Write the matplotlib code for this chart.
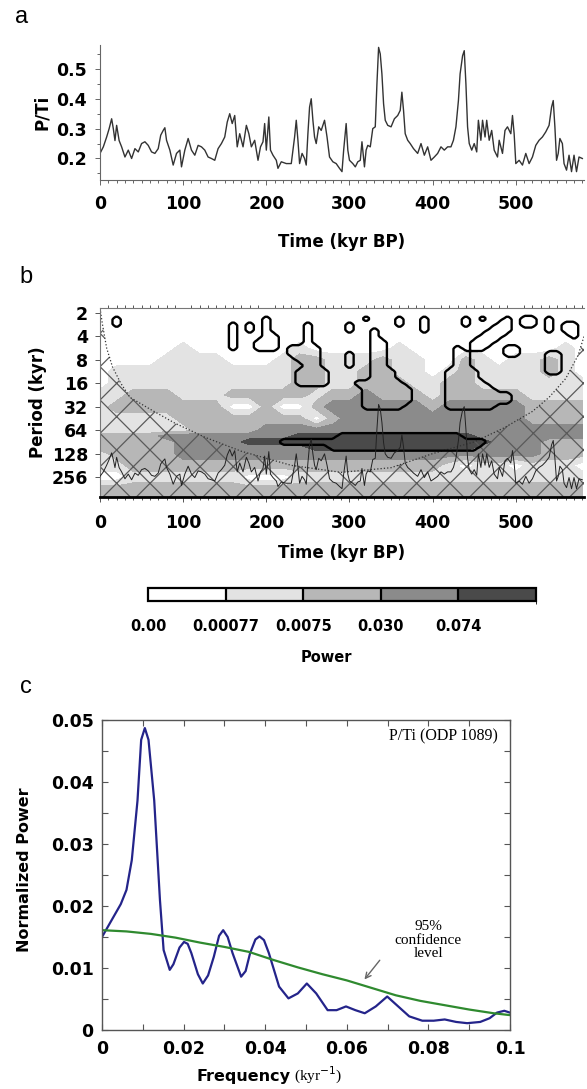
import numpy as np
import matplotlib
matplotlib.use("Agg")
import matplotlib.pyplot as plt
import matplotlib as mpl
from matplotlib.colors import ListedColormap, BoundaryNorm
from matplotlib.ticker import MultipleLocator, FixedLocator, FixedFormatter

# ---------------------------------------------------------------- data
# (a) P/Ti record, ODP 1089
pti_time = [0, 4, 8, 11, 14, 16, 18, 20, 23, 26, 30, 34, 38, 42, 46, 50, 54, 58, 62, 66,
            70, 73, 76, 78, 80, 84, 88, 92, 96, 98, 102, 106, 110, 114, 118, 122, 126, 130,
            134, 138, 142, 146, 150, 153, 156, 159, 162, 165, 168, 172, 176, 179, 182, 186,
            190, 193, 196, 198, 200, 203, 205, 208, 212, 214, 218, 224, 230, 234, 236, 238,
            240, 243, 246, 248, 250, 252, 254, 256, 258, 260, 263, 266, 270, 273, 276, 280,
            284, 288, 291, 293, 296, 298, 300, 304, 307, 310, 313, 315, 318, 320, 322, 325,
            328, 331, 333, 335, 337, 339, 341, 343, 346, 350, 354, 358, 361, 363, 365, 367,
            370, 373, 377, 382, 386, 390, 394, 398, 402, 406, 410, 414, 418, 422, 425, 428,
            431, 433, 436, 438, 440, 442, 444, 447, 450, 453, 455, 458, 460, 463, 465, 468,
            471, 474, 478, 480, 484, 487, 490, 494, 496, 498, 500, 504, 508, 512, 516, 520,
            524, 528, 532, 536, 540, 543, 545, 547, 549, 551, 553, 556, 558, 561, 564, 567,
            570, 573, 576, 580]
pti_value = [0.217, 0.239, 0.272, 0.300, 0.333, 0.300, 0.260, 0.311, 0.260, 0.239, 0.205,
             0.228, 0.200, 0.233, 0.222, 0.250, 0.256, 0.244, 0.222, 0.217, 0.233, 0.278,
             0.294, 0.303, 0.261, 0.228, 0.178, 0.217, 0.228, 0.172, 0.228, 0.267, 0.228,
             0.211, 0.244, 0.239, 0.228, 0.205, 0.200, 0.194, 0.233, 0.250, 0.272, 0.322,
             0.350, 0.317, 0.344, 0.239, 0.283, 0.239, 0.311, 0.283, 0.239, 0.261, 0.194,
             0.239, 0.256, 0.317, 0.228, 0.339, 0.228, 0.211, 0.194, 0.167, 0.189, 0.183,
             0.183, 0.272, 0.328, 0.261, 0.183, 0.217, 0.200, 0.178, 0.283, 0.372, 0.400,
             0.328, 0.272, 0.250, 0.306, 0.294, 0.328, 0.272, 0.205, 0.189, 0.183, 0.167,
             0.156, 0.228, 0.317, 0.228, 0.194, 0.183, 0.172, 0.189, 0.194, 0.256, 0.172,
             0.228, 0.244, 0.239, 0.300, 0.306, 0.450, 0.572, 0.550, 0.483, 0.383, 0.328,
             0.311, 0.306, 0.333, 0.344, 0.361, 0.422, 0.361, 0.283, 0.261, 0.250, 0.233,
             0.217, 0.250, 0.211, 0.239, 0.194, 0.205, 0.217, 0.239, 0.228, 0.239, 0.239,
             0.261, 0.306, 0.394, 0.483, 0.544, 0.561, 0.450, 0.306, 0.250, 0.228, 0.250,
             0.222, 0.328, 0.261, 0.328, 0.272, 0.328, 0.261, 0.294, 0.228, 0.205, 0.261,
             0.217, 0.294, 0.306, 0.283, 0.344, 0.283, 0.183, 0.194, 0.178, 0.217, 0.183,
             0.205, 0.244, 0.261, 0.272, 0.289, 0.311, 0.372, 0.394, 0.306, 0.194, 0.217,
             0.267, 0.250, 0.183, 0.161, 0.211, 0.156, 0.211, 0.156, 0.205, 0.200]

time_ticks = [0, 100, 200, 300, 400, 500]
pti_ticks = [0.2, 0.3, 0.4, 0.5]

# (b) wavelet power spectrum: shading class per cell (0..4), rows = log2(period)
period_labels = ["2", "4", "8", "16", "32", "64", "128", "256"]
period_log2 = [1, 2, 3, 4, 5, 6, 7, 8]
shade_time = [0, 20, 40, 60, 80, 100, 120, 140, 160, 180, 200, 220, 240, 260, 280,
              300, 320, 340, 360, 380, 400, 420, 440, 460, 480, 500, 520, 540, 560, 580]
shade_log2period = [0.5, 1.0, 1.5, 2.0, 2.5, 3.0, 3.5, 4.0, 4.5, 5.0, 5.5, 6.0, 6.25,
                    6.5, 6.75, 7.0, 7.5, 8.0, 8.5, 9.0]
shade_rows = [
    "000000000000000000000000000000",
    "000000000000000000000000000000",
    "000000000000000000000000000000",
    "000000000000000000000000000000",
    "000001000000100000100000000010",
    "000011110001221112110021011210",
    "011111111111221122110121111210",
    "011111111111221122211221111111",
    "112221112222212232221222221111",
    "122222220020023333332333332222",
    "111112222222202333333333332222",
    "111111222233333333333333333333",
    "222233333333444444444443333333",
    "222223333444444444444444333222",
    "222223333333344444444443333222",
    "122223333333333333333333333222",
    "112222222222222222222101101110",
    "001111111000111111111111111111",
    "222222222222222222222222222222",
    "222222222222222222222222222222",
]
power_levels = ["0.00", "0.00077", "0.0075", "0.030", "0.074"]
shade_colors = ["#ffffff", "#e3e3e3", "#b7b7b7", "#8b8b8b", "#4a4a4a"]

# significant regions: (log2 period, first time, last time), cells of 10 kyr x 1/4 octave
sig_runs = [
    (1.25, 20, 20), (1.5, 20, 20),
    (1.5, 160, 160), (1.75, 160, 160), (2.0, 160, 160), (2.25, 160, 160), (2.5, 160, 160),
    (1.5, 180, 180), (1.75, 180, 180),
    (1.25, 200, 200), (1.5, 200, 200), (1.75, 200, 200), (2.0, 200, 210),
    (2.25, 190, 210), (2.5, 190, 210),
    (1.5, 250, 250), (1.75, 250, 250), (2.0, 250, 250), (2.25, 250, 250),
    (2.5, 230, 260), (2.75, 230, 260), (3.0, 240, 260), (3.25, 250, 260),
    (3.5, 240, 270), (3.75, 240, 270), (4.0, 240, 270),
    (1.5, 300, 300), (1.75, 300, 300),
    (2.75, 300, 300), (3.0, 300, 300), (3.25, 300, 300),
    (1.25, 320, 320),
    (1.75, 330, 330), (2.0, 330, 330), (2.25, 330, 340), (2.5, 330, 340),
    (2.75, 330, 340), (3.0, 330, 340), (3.25, 330, 340), (3.5, 330, 350),
    (3.75, 330, 350), (4.0, 310, 360), (4.25, 320, 370), (4.5, 320, 370),
    (4.75, 320, 370), (5.0, 320, 360),
    (1.25, 360, 360), (1.5, 360, 360),
    (1.25, 390, 390), (1.5, 390, 390), (1.75, 390, 390),
    (1.25, 440, 440), (1.5, 440, 440),
    (1.25, 460, 460),
    (2.5, 430, 430), (2.75, 430, 440), (3.0, 430, 440), (3.25, 430, 440),
    (3.5, 420, 450), (3.75, 420, 450), (4.0, 420, 460), (4.25, 420, 470),
    (4.5, 420, 490), (4.75, 420, 490), (5.0, 420, 470),
    (1.25, 490, 490), (1.5, 480, 490), (1.75, 470, 490), (2.0, 460, 480),
    (2.25, 450, 470), (2.5, 450, 460),
    (2.5, 490, 500), (2.75, 490, 500),
    (1.25, 510, 520), (1.5, 510, 520),
    (1.25, 540, 540), (1.5, 540, 540), (1.75, 540, 540),
    (1.5, 560, 570), (1.75, 560, 570), (2.0, 570, 570),
    (2.75, 540, 550), (3.0, 540, 550), (3.25, 540, 550), (3.5, 540, 550),
    (6.25, 290, 430), (6.5, 220, 460), (6.75, 280, 450),
]

# cone of influence
coi_time = [0, 3, 8, 15, 25, 36, 60, 90, 126, 170, 230, 290, 350, 400, 450, 486,
            520, 540, 560, 575, 582]
coi_log2period = [0.8, 1.5, 2.5, 3.3, 4.0, 4.6, 5.1, 5.7, 6.3, 6.9, 7.5, 7.8, 7.6,
                  7.0, 6.5, 5.9, 5.2, 4.6, 3.8, 2.8, 2.0]

# (c) power spectrum
spec_freq = [0.0, 0.0046, 0.006, 0.0073, 0.0087, 0.0096, 0.0105, 0.0114, 0.0128, 0.0142,
             0.0151, 0.0166, 0.0175, 0.0190, 0.0201, 0.0210, 0.0219, 0.0235, 0.0247, 0.0260,
             0.0274, 0.0287, 0.0297, 0.0308, 0.032, 0.0341, 0.0352, 0.0363, 0.0376, 0.0386,
             0.0397, 0.0409, 0.0434, 0.0457, 0.048, 0.0502, 0.0525, 0.0553, 0.0575, 0.0598,
             0.0621, 0.0644, 0.0671, 0.0699, 0.0726, 0.0753, 0.0785, 0.0813, 0.084, 0.0868,
             0.0895, 0.0927, 0.095, 0.0968, 0.0986, 0.1]
spec_power = [0.0150, 0.0203, 0.0226, 0.0274, 0.0370, 0.0468, 0.0487, 0.0468, 0.0370, 0.0210,
              0.0129, 0.0097, 0.0106, 0.0133, 0.0142, 0.0139, 0.0124, 0.0090, 0.0075, 0.0088,
              0.0118, 0.0152, 0.0161, 0.0150, 0.0124, 0.0086, 0.0095, 0.0124, 0.0146, 0.0151,
              0.0145, 0.0124, 0.0070, 0.0051, 0.0059, 0.0075, 0.0059, 0.0032, 0.0032, 0.0038,
              0.0032, 0.0027, 0.0038, 0.0054, 0.0038, 0.0022, 0.0015, 0.0015, 0.0017, 0.0013,
              0.0011, 0.0013, 0.0019, 0.0028, 0.0031, 0.0028]
conf_freq = [0.0, 0.006, 0.012, 0.018, 0.024, 0.030, 0.036, 0.042, 0.048, 0.054, 0.060,
             0.066, 0.072, 0.078, 0.084, 0.090, 0.096, 0.100]
conf_level = [0.0161, 0.0159, 0.0155, 0.0149, 0.0141, 0.0134, 0.0126, 0.0113, 0.0101,
              0.0090, 0.0080, 0.0068, 0.0056, 0.0047, 0.0040, 0.0033, 0.0027, 0.0024]
freq_ticks = [0, 0.02, 0.04, 0.06, 0.08, 0.1]
freq_labels = ["0", "0.02", "0.04", "0.06", "0.08", "0.1"]
npow_ticks = [0, 0.01, 0.02, 0.03, 0.04, 0.05]
npow_labels = ["0", "0.01", "0.02", "0.03", "0.04", "0.05"]

# ---------------------------------------------------------------- figure
W, H = 587, 1089
fig = plt.figure(figsize=(W / 100, H / 100), dpi=100)
SANS = "DejaVu Sans"
SERIF = "Liberation Serif"
TK = dict(family=SANS, weight="bold", size=12.5)
LAB = dict(family=SANS, weight="bold", size=12)
mpl.rcParams["hatch.linewidth"] = 0.9
mpl.rcParams["hatch.color"] = "#5a5a5a"


def axes_px(x0, y0, x1, y1):
    return fig.add_axes([x0 / W, 1 - y1 / H, (x1 - x0) / W, (y1 - y0) / H])


def ftext(x, y, s, **kw):
    return fig.text(x / W, 1 - y / H, s, **kw)


def style_ticklabels(ax, props):
    fp = mpl.font_manager.FontProperties(**props)
    for lab in ax.get_xticklabels() + ax.get_yticklabels():
        lab.set_fontproperties(fp)


def rounded_mask(mask, f=4, k=5):
    """Upsample a 0/1 cell mask and soften its corners for contouring."""
    up = np.kron(mask, np.ones((f, f)))
    p = np.pad(up, k // 2, mode="edge")
    out = np.zeros_like(up)
    for di in range(k):
        for dj in range(k):
            out += p[di:di + up.shape[0], dj:dj + up.shape[1]]
    return out / (k * k)


# ---- panel a
ax_a = axes_px(100, 45, 584, 180)
ax_a.plot(pti_time, pti_value, color="#333333", lw=1.0)
ax_a.set_xlim(0, 582)
ax_a.set_ylim(0.128, 0.58)
for s in ("top", "right"):
    ax_a.spines[s].set_visible(False)
for s in ("left", "bottom"):
    ax_a.spines[s].set_color("#666666")
    ax_a.spines[s].set_linewidth(0.8)
ax_a.xaxis.set_major_locator(FixedLocator(time_ticks))
ax_a.xaxis.set_minor_locator(MultipleLocator(10))
ax_a.yaxis.set_major_locator(FixedLocator(pti_ticks))
ax_a.yaxis.set_minor_locator(MultipleLocator(0.05))
ax_a.tick_params(which="both", direction="out", color="#666666", width=0.7)
ax_a.tick_params(which="major", length=3.5)
ax_a.tick_params(which="minor", length=2.5)
ax_a.tick_params(axis="x", pad=7.5)
ax_a.tick_params(axis="y", pad=6)
style_ticklabels(ax_a, TK)
ftext(22, 17, "a", family="Liberation Sans", size=17, ha="center", va="center")
ftext(42, 112, "P/Ti", rotation=90, ha="center", va="center", **LAB)
ftext(342, 242, "Time (kyr BP)", ha="center", va="center", **LAB)

# ---- panel b
ax_b = axes_px(100, 308, 584, 497)
codes = np.array([[int(c) for c in row] for row in shade_rows])
ax_b.contourf(shade_time, shade_log2period, codes,
              levels=[-0.5, 0.5, 1.5, 2.5, 3.5, 4.5], colors=shade_colors)

sig_time = np.arange(0, 590, 10)
sig_log2 = np.arange(0.75, 7.26, 0.25)
sig = np.zeros((len(sig_log2), len(sig_time)))
for L, t0, t1 in sig_runs:
    r = int(round((L - 0.75) / 0.25))
    sig[r, t0 // 10:t1 // 10 + 1] = 1
f_up = 4
sig_up = rounded_mask(sig, f=f_up, k=5)
t_up = sig_time[0] - 5 + 10 / f_up * (np.arange(sig_up.shape[1]) + 0.5)
L_up = sig_log2[0] - 0.125 + 0.25 / f_up * (np.arange(sig_up.shape[0]) + 0.5)

ax_b.fill_between(coi_time, coi_log2period, 9.5, facecolor="none",
                  edgecolor="#5a5a5a", hatch="x", lw=0)
ax_b.plot(coi_time, coi_log2period, ls=":", color="#333333", lw=0.9)
ax_b.contour(t_up, L_up, sig_up, levels=[0.5], colors="k", linewidths=1.7)

ax_b.set_xlim(0, 582)
ax_b.set_ylim(8.85, 0.79)
ax_b.yaxis.set_major_locator(FixedLocator(period_log2))
ax_b.yaxis.set_major_formatter(FixedFormatter(period_labels))
ax_b.xaxis.set_major_locator(FixedLocator(time_ticks))
ax_b.xaxis.set_minor_locator(MultipleLocator(10))
ax_b.tick_params(which="both", direction="out", color="#555555", width=0.7)
ax_b.tick_params(which="major", length=3.5)
ax_b.tick_params(which="minor", length=2.5, top=True)
ax_b.tick_params(axis="x", pad=8.5)
ax_b.tick_params(axis="y", pad=5)
for s in ("top", "left", "right"):
    ax_b.spines[s].set_color("#777777")
    ax_b.spines[s].set_linewidth(0.8)
ax_b.spines["right"].set_visible(False)
ax_b.spines["bottom"].set_linewidth(2.0)
style_ticklabels(ax_b, TK)

ax_b2 = ax_b.twinx()
ax_b2.plot(pti_time, pti_value, color="#222222", lw=0.7)
ax_b2.set_ylim(0.115, 1.048)
ax_b2.set_xlim(0, 582)
ax_b2.set_axis_off()

ftext(26, 277, "b", family="Liberation Sans", size=17, ha="center", va="center")
ftext(38, 402, "Period (kyr)", rotation=90, ha="center", va="center", **LAB)
ftext(342, 553, "Time (kyr BP)", ha="center", va="center", **LAB)

# ---- colour bar
cax = axes_px(148, 588, 536, 601)
cb = mpl.colorbar.ColorbarBase(cax, cmap=ListedColormap(shade_colors),
                               norm=BoundaryNorm([0, 1, 2, 3, 4, 5], 5),
                               orientation="horizontal", drawedges=True)
cb.set_ticks([0, 1, 2, 3, 4])
cb.set_ticklabels(power_levels)
cb.outline.set_linewidth(1.6)
cb.dividers.set_linewidth(1.6)
cax.tick_params(length=0, pad=13)
style_ticklabels(cax, dict(family=SANS, weight="bold", size=10.5))
ftext(326, 657, "Power", ha="center", va="center", family=SANS, weight="bold", size=10.5)

# ---- panel c
ax_c = axes_px(102, 720, 510, 1030)
ax_c.plot(spec_freq, spec_power, color="#24248a", lw=1.6)
ax_c.plot(conf_freq, conf_level, color="#2f8a2f", lw=1.6)
ax_c.set_xlim(0, 0.1)
ax_c.set_ylim(0, 0.05)
ax_c.xaxis.set_major_locator(FixedLocator(freq_ticks))
ax_c.xaxis.set_major_formatter(FixedFormatter(freq_labels))
ax_c.xaxis.set_minor_locator(MultipleLocator(0.01))
ax_c.yaxis.set_major_locator(FixedLocator(npow_ticks))
ax_c.yaxis.set_major_formatter(FixedFormatter(npow_labels))
ax_c.yaxis.set_minor_locator(MultipleLocator(0.005))
ax_c.tick_params(which="both", direction="in", top=True, right=True,
                 color="#555555", width=0.8)
ax_c.tick_params(which="major", length=4)
ax_c.tick_params(which="minor", length=4)
ax_c.tick_params(axis="x", pad=7)
ax_c.tick_params(axis="y", pad=6)
for s in ax_c.spines.values():
    s.set_color("#555555")
    s.set_linewidth(1.0)
style_ticklabels(ax_c, TK)
ax_c.text(0.097, 0.0473, "P/Ti (ODP 1089)", ha="right", va="center",
          family=SERIF, size=11.5)
ax_c.text(0.080, 0.0145, "95%\nconfidence\nlevel", ha="center", va="center",
          family=SERIF, size=11, linespacing=1.05)
ax_c.annotate("", xy=(0.0639, 0.0078), xytext=(0.0685, 0.0116),
              arrowprops=dict(arrowstyle="->", color="#666666", lw=1.0))

ftext(26, 687, "c", family="Liberation Sans", size=17, ha="center", va="center")
ftext(25, 870, "Normalized Power", rotation=90, ha="center", va="center",
      family=SANS, weight="bold", size=11.5)
ftext(291, 1077, "Frequency", ha="right", va="center", family=SANS, weight="bold", size=11.5)
ftext(294, 1075, r"(kyr$^{-1}$)", ha="left", va="center", family=SERIF, size=11)

fig.savefig("out.png", dpi=100)
